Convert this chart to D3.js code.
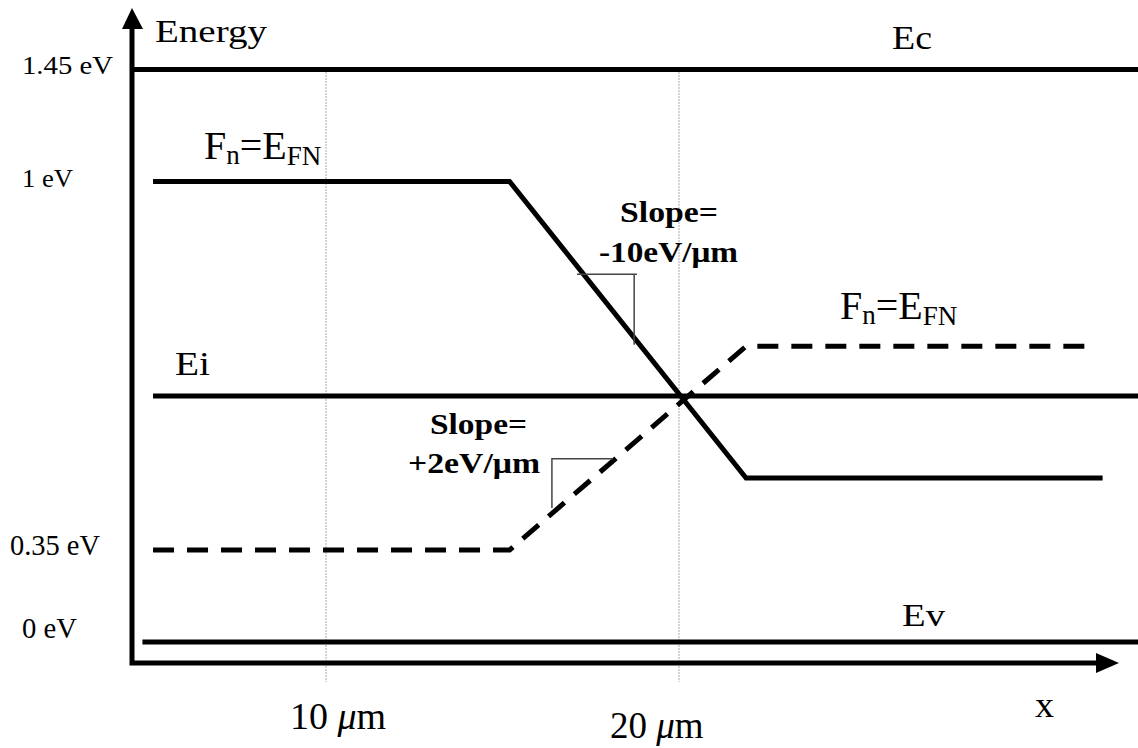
<!DOCTYPE html>
<html>
<head>
<meta charset="utf-8">
<script src="https://cdn.jsdelivr.net/npm/d3@7"></script>
<style>
  html, body { margin: 0; padding: 0; background: #fff; }
  svg { display: block; font-family: "Liberation Serif", "Times New Roman", serif; }
</style>
</head>
<body>
<div id="container"></div>
<script>
// positions along x, in micrometres
const xTicks = [10, 20];
const xTickLabels = ['10 ', '20 '];

// energy levels with a label on the left, in eV
const levelValues = [1.45, 1, 0.35, 0];
const levelLabels = ['1.45 eV', '1 eV', '0.35 eV', '0 eV'];

// band edges / intrinsic level
const bandNames = ['Ec', 'Ei', 'Ev'];
const bandEnergy = [1.45, 0.72, 0];
const bandStart = [4.5, 5.1, 4.8];
const bandEnd = [33.5, 33.5, 33.5];

// quasi-Fermi levels (solid and dashed)
const fnX = [5.1, 15.2, 21.9, 32.0];
const fnE = [1, 1, 0.523, 0.523];
const fpX = [5.1, 15.2, 21.9, 31.6];
const fpE = [0.35, 0.35, 0.785, 0.785];

// slope marks: [x0, x1] and [e0, e1] of the little right triangles
const slopeTriX = [[17.11, 18.81], [16.40, 18.13]];
const slopeTriE = [[0.879, 0.787], [0.569, 0.451]];
const slopeText = [['Slope=', '-10eV/\u03bcm'], ['Slope=', '+2eV/\u03bcm']];

const width = 1138;
const height = 748;
const origin = { x: 132, y: 663 };

const x = d3.scaleLinear().domain([10, 20]).range([326, 679]);
// schematic (not to scale) energy axis
const y = d3.scaleLinear()
  .domain([0, 0.35, 0.72, 1, 1.45])
  .range([642, 550, 396, 181.5, 69.5]);

const svg = d3.select('#container')
  .append('svg')
  .attr('width', width)
  .attr('height', height);

svg.append('rect').attr('width', width).attr('height', height).attr('fill', '#fff');

// dotted verticals at the x ticks
svg.selectAll('.grid')
  .data(xTicks)
  .join('line')
  .attr('class', 'grid')
  .attr('x1', d => x(d)).attr('x2', d => x(d))
  .attr('y1', y(1.45) + 3).attr('y2', 682)
  .attr('stroke', '#555')
  .attr('stroke-width', 1)
  .attr('stroke-dasharray', '1,2');

// axes
svg.append('path')
  .attr('d', `M${origin.x},26 V${origin.y} H1100`)
  .attr('fill', 'none')
  .attr('stroke', '#000')
  .attr('stroke-width', 5)
  .attr('stroke-linejoin', 'miter');
svg.append('path')
  .attr('d', `M${origin.x},8 L${origin.x + 11},29 L${origin.x - 10},29 Z`)
  .attr('fill', '#000');
svg.append('path')
  .attr('d', `M1119,${origin.y} L1096,${origin.y - 10} L1096,${origin.y + 10} Z`)
  .attr('fill', '#000');

// band lines
svg.selectAll('.band')
  .data(bandNames)
  .join('line')
  .attr('class', 'band')
  .attr('x1', (d, i) => x(bandStart[i]))
  .attr('x2', (d, i) => x(bandEnd[i]))
  .attr('y1', (d, i) => y(bandEnergy[i]))
  .attr('y2', (d, i) => y(bandEnergy[i]))
  .attr('stroke', '#000')
  .attr('stroke-width', 5);

const line = d3.line().x(d => x(d[0])).y(d => y(d[1]));

svg.append('path')
  .attr('d', line(d3.zip(fnX, fnE)))
  .attr('fill', 'none')
  .attr('stroke', '#000')
  .attr('stroke-width', 5);

svg.append('path')
  .attr('d', line(d3.zip(fpX, fpE)))
  .attr('fill', 'none')
  .attr('stroke', '#000')
  .attr('stroke-width', 5)
  .attr('stroke-dasharray', '21,13');

// slope triangles
slopeTriX.forEach((xs, i) => {
  const es = slopeTriE[i];
  const pts = i === 0
    ? [[xs[0], es[0]], [xs[1], es[0]], [xs[1] - 0.08, es[0]], [xs[1] - 0.08, es[1]]]
    : [[xs[1], es[0]], [xs[0], es[0]], [xs[0], es[1]]];
  svg.append('path')
    .attr('d', line(pts))
    .attr('fill', 'none')
    .attr('stroke', '#444')
    .attr('stroke-width', 1.5);
});

// texts
const addText = (str, tx, ty, size, len, bold) => {
  const t = svg.append('text')
    .attr('x', tx)
    .attr('y', ty)
    .attr('font-size', size)
    .attr('fill', '#000')
    .text(str);
  if (bold) t.attr('font-weight', 'bold');
  if (len) t.attr('textLength', len).attr('lengthAdjust', 'spacingAndGlyphs');
  return t;
};

const levelLayout = [[22, 4.5, 26, 91], [22, 5.5, 26, 51], [10, 5, 29, 90], [22, -4, 29, 55]];
levelLabels.forEach((s, i) => {
  const l = levelLayout[i];
  addText(s, l[0], y(levelValues[i]) + l[1], l[2], l[3]);
});

addText('Energy', 155, 42, 31, 112);
addText('Ec', 892, y(1.45) - 20.5, 33, 40);
addText('Ei', 175, y(0.72) - 21, 34, 35);
addText('Ev', 902, y(0) - 16, 32, 43);
addText('x', 1035, 717, 36, 19);

const xLabelLayout = [[290, 729, 38], [610, 738, 37]];
xTickLabels.forEach((s, i) => {
  const l = xLabelLayout[i];
  const t = svg.append('text')
    .attr('x', l[0]).attr('y', l[1])
    .attr('font-size', l[2])
    .attr('fill', '#000');
  t.append('tspan').text(s);
  t.append('tspan').attr('font-style', 'italic').text('\u03bc');
  t.append('tspan').text('m');
});

const fnLabel = (tx, ty) => {
  const t = svg.append('text')
    .attr('x', tx).attr('y', ty)
    .attr('font-size', 40)
    .attr('fill', '#000');
  t.append('tspan').text('F');
  t.append('tspan').attr('font-size', 27).attr('dy', 5).text('n');
  t.append('tspan').attr('dy', -5).text('=E');
  t.append('tspan').attr('font-size', 27).attr('dy', 6).text('FN');
};
fnLabel(204, 159);
fnLabel(840, 319);

const slopeLayout = [[[620, 222, 98], [599, 262, 139]], [[430, 434, 97], [408, 473, 132]]];
slopeText.forEach((pair, i) => {
  pair.forEach((s, j) => {
    const l = slopeLayout[i][j];
    addText(s, l[0], l[1], 30, l[2], true);
  });
});
</script>
</body>
</html>
